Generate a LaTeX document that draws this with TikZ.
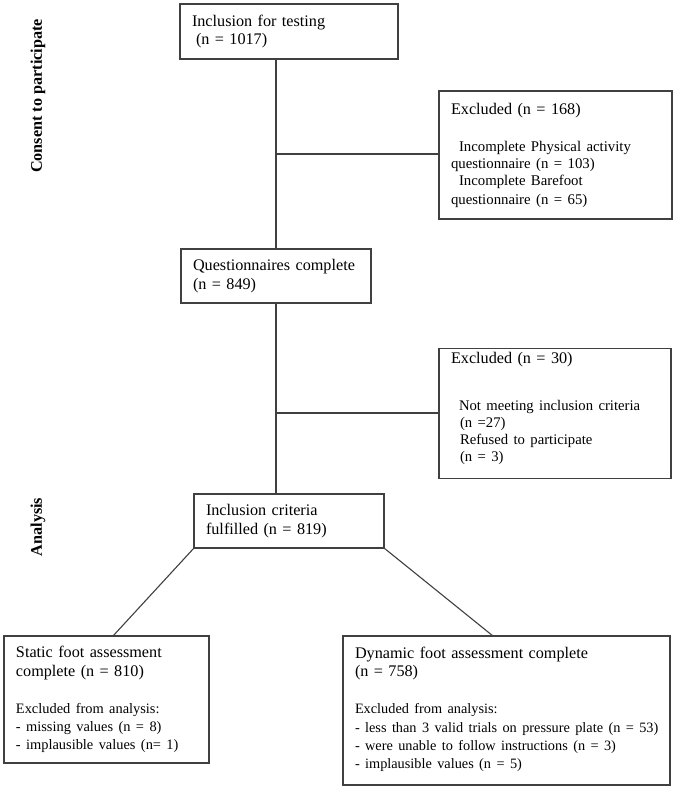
\documentclass[tikz,border=0pt]{standalone}
\usepackage{fontspec}
\setmainfont{Liberation Serif}
\newcommand{\myline}[1]{\mbox{#1}}
\newcommand{\subsize}[2]{\fontsize{#1}{#2}\selectfont}
\begin{document}
\begin{tikzpicture}[x=1pt,y=-1pt,
  box/.style={draw=black!75, line width=1.1pt, rectangle, inner xsep=12pt, inner ysep=4pt,
    outer sep=0pt, align=left, anchor=center,
    font=\fontsize{16.2}{18.4}\selectfont},
  conn/.style={draw=black!75, line width=1.1pt},
  sidelab/.style={rotate=90, font=\fontsize{16.2}{18.4}\selectfont\bfseries}]
\useasboundingbox (0,0) rectangle (675,790);
\fill[white] (0,0) rectangle (675,790);

% boxes: centre, size
\node[box, minimum width=218pt, minimum height=55pt, text width=194pt] (b1) at (289,31.5)
  {\myline{Inclusion for testing}\\\myline{\hspace*{4pt}(n = 1017)}};
\node[box, minimum width=190pt, minimum height=54pt, text width=166pt] (b2) at (276,276)
  {\myline{Questionnaires complete}\\\myline{(n = 849)}};
\node[box, minimum width=190pt, minimum height=54pt, text width=166pt] (b3) at (289,521)
  {\myline{Inclusion criteria}\\\myline{fulfilled (n = 819)}};
\node[box, minimum width=233pt, minimum height=128pt, text width=209pt] (e1) at (555.5,155)
  {\myline{Excluded (n = 168)}\\[19.7pt]\subsize{14.8}{17.3}%
   \myline{\hspace*{8pt}Incomplete Physical activity}\\
   \myline{questionnaire (n = 103)}\\
   \myline{\hspace*{8pt}Incomplete Barefoot}\\
   \myline{questionnaire (n = 65)}};
\node[box, minimum width=232pt, minimum height=127pt, text width=208pt] (e2) at (555,413.5)
  {\myline{Excluded (n = 30)}\\[30pt]\subsize{14.7}{17}%
   \myline{\hspace*{8pt}Not meeting inclusion criteria}\\
   \myline{\hspace*{9pt}(n =27)}\\
   \myline{\hspace*{9pt}Refused to participate}\\
   \myline{\hspace*{9pt}(n = 3)}\\[-6pt]\mbox{}};
\node[box, minimum width=205pt, minimum height=127pt, text width=181pt] (s) at (106.5,699.5)
  {\myline{Static foot assessment}\\\myline{complete (n = 810)}\\[18.7pt]\subsize{14.4}{18.3}%
   \myline{Excluded from analysis:}\\
   \myline{- missing values (n = 8)}\\
   \myline{- implausible values (n= 1)}};
\node[box, minimum width=327pt, minimum height=149pt, text width=303pt] (d) at (506.5,710.5)
  {\myline{Dynamic foot assessment complete}\\\myline{(n = 758)}\\[18.7pt]\subsize{14.3}{18.3}%
   \myline{Excluded from analysis:}\\
   \myline{- less than 3 valid trials on pressure plate (n = 53)}\\
   \myline{- were unable to follow instructions (n = 3)}\\
   \myline{- implausible values (n = 5)}\\[-13pt]\mbox{}};

% side labels
\node[sidelab] (lab1) at (38,96) {Consent to participate};
\node[sidelab] (lab2) at (38,527) {Analysis};

% connectors
\coordinate (t1) at (276,154);
\coordinate (t2) at (276,413);
\draw[conn] (b1.south -| t1) -- (b2.north -| t1);
\draw[conn] (t1) -- (t1 -| e1.west);
\draw[conn] (b2.south -| t2) -- (b3.north -| t2);
\draw[conn] (t2) -- (t2 -| e2.west);
\draw[conn] (b3.south west) -- ([xshift=6.5pt]s.north);
\draw[conn] (b3.south east) -- ([xshift=-13.5pt]d.north);
\end{tikzpicture}
\end{document}
